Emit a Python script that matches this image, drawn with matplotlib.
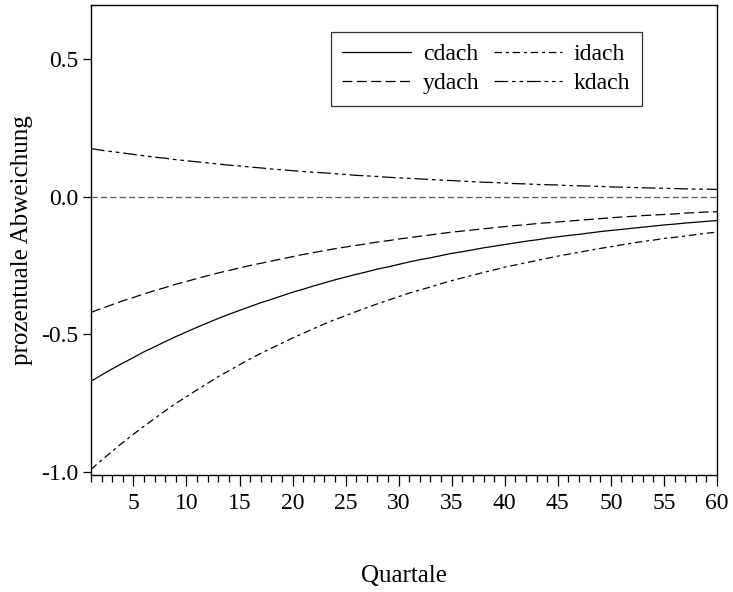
import matplotlib.pyplot as plt
from matplotlib.ticker import MultipleLocator

# Quartale 1..60, prozentuale Abweichung
quartale = list(range(1, 61))

cdach = [-0.670, -0.647, -0.625, -0.604, -0.584, -0.563, -0.545, -0.526, -0.508, -0.491,
         -0.474, -0.458, -0.442, -0.427, -0.413, -0.399, -0.385, -0.373, -0.360, -0.347,
         -0.336, -0.324, -0.313, -0.302, -0.292, -0.282, -0.273, -0.263, -0.255, -0.246,
         -0.237, -0.229, -0.222, -0.214, -0.206, -0.200, -0.193, -0.186, -0.180, -0.174,
         -0.168, -0.162, -0.157, -0.151, -0.146, -0.141, -0.137, -0.132, -0.127, -0.123,
         -0.119, -0.115, -0.111, -0.107, -0.103, -0.100, -0.096, -0.093, -0.090, -0.087]

ydach = [-0.420, -0.406, -0.392, -0.378, -0.366, -0.353, -0.341, -0.330, -0.318, -0.308,
         -0.297, -0.287, -0.277, -0.268, -0.259, -0.250, -0.242, -0.234, -0.226, -0.218,
         -0.210, -0.203, -0.196, -0.189, -0.183, -0.177, -0.171, -0.165, -0.160, -0.154,
         -0.149, -0.144, -0.139, -0.134, -0.129, -0.125, -0.121, -0.117, -0.113, -0.109,
         -0.105, -0.102, -0.098, -0.095, -0.092, -0.089, -0.086, -0.083, -0.080, -0.077,
         -0.074, -0.072, -0.069, -0.067, -0.065, -0.063, -0.060, -0.058, -0.056, -0.055]

idach = [-0.990, -0.956, -0.924, -0.892, -0.862, -0.833, -0.805, -0.777, -0.750, -0.726,
         -0.701, -0.677, -0.653, -0.632, -0.610, -0.589, -0.569, -0.550, -0.532, -0.513,
         -0.496, -0.479, -0.462, -0.446, -0.432, -0.417, -0.403, -0.389, -0.376, -0.363,
         -0.350, -0.339, -0.328, -0.316, -0.305, -0.295, -0.285, -0.275, -0.266, -0.256,
         -0.248, -0.240, -0.232, -0.224, -0.216, -0.209, -0.202, -0.195, -0.188, -0.182,
         -0.175, -0.169, -0.163, -0.158, -0.152, -0.148, -0.143, -0.138, -0.133, -0.129]

kdach = [0.174, 0.168, 0.163, 0.158, 0.153, 0.148, 0.143, 0.139, 0.134, 0.130,
         0.126, 0.122, 0.118, 0.114, 0.111, 0.107, 0.104, 0.100, 0.097, 0.094,
         0.091, 0.088, 0.086, 0.083, 0.080, 0.077, 0.075, 0.073, 0.070, 0.068,
         0.066, 0.064, 0.062, 0.060, 0.058, 0.056, 0.054, 0.052, 0.051, 0.049,
         0.047, 0.046, 0.044, 0.043, 0.042, 0.040, 0.039, 0.038, 0.037, 0.035,
         0.034, 0.033, 0.032, 0.031, 0.030, 0.029, 0.028, 0.027, 0.027, 0.026]

plt.rcParams['font.family'] = ['Liberation Serif', 'DejaVu Serif']
plt.rcParams['font.size'] = 17

fig = plt.figure(figsize=(7.33, 5.92), dpi=100)
ax = fig.add_axes([0.1241, 0.1976, 0.8540, 0.7940])

ax.axhline(0, color='#555555', linewidth=0.9, dashes=(5, 2.5))
ax.plot(quartale, cdach, color='black', linewidth=0.9, label='cdach')
ax.plot(quartale, ydach, color='black', linewidth=0.9, dashes=(8, 3.5), label='ydach')
ax.plot(quartale, idach, color='black', linewidth=0.9, dashes=(6, 3, 2.5, 3), label='idach')
ax.plot(quartale, kdach, color='black', linewidth=0.9,
        dashes=(11, 3, 3, 3, 3, 3), label='kdach')

ax.set_xlim(1, 60)
ax.set_ylim(-1.01, 0.695)
ax.xaxis.set_major_locator(MultipleLocator(5))
ax.xaxis.set_minor_locator(MultipleLocator(1))
ax.yaxis.set_major_locator(MultipleLocator(0.5))
ax.yaxis.set_major_formatter(plt.FuncFormatter(lambda v, p: '%.1f' % v))
ax.tick_params(axis='x', which='major', direction='out', length=8, width=0.9, pad=5)
ax.tick_params(axis='x', which='minor', direction='out', length=5, width=0.9)
ax.tick_params(axis='y', which='major', direction='out', length=6, width=0.9, pad=3)
for s in ax.spines.values():
    s.set_linewidth(1.0)

ax.set_xlabel('Quartale', fontsize=18, labelpad=37)
ax.set_ylabel('prozentuale Abweichung', fontsize=18, labelpad=6)

# legend columns fill top-down: (cdach, ydach) | (idach, kdach)
leg = ax.legend(ncol=2, loc='upper left', bbox_to_anchor=(0.364, 0.968),
                frameon=True, fancybox=False, edgecolor='black',
                handlelength=2.9, columnspacing=0.6, handletextpad=0.5,
                borderpad=0.5, labelspacing=0.3, fontsize=17)
leg.get_frame().set_linewidth(0.9)

fig.savefig('out.png', dpi=100)
